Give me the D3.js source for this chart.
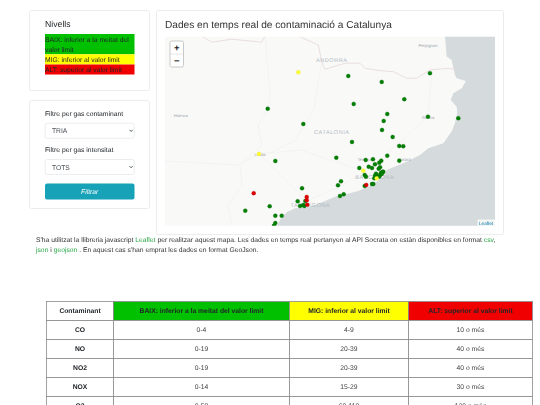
<!DOCTYPE html>
<html>
<head>
<meta charset="utf-8">
<script src="https://cdnjs.cloudflare.com/ajax/libs/d3/7.8.5/d3.min.js"></script>
<style>
html, body { margin: 0; background: #fff; overflow: hidden; }
svg { filter: blur(.3px); }
text { font-family: "Liberation Sans", Arial, sans-serif; text-rendering: geometricPrecision; }
</style>
</head>
<body>
<div id="page"></div>
<script>
// stations, [lon, lat]
const greenStations = [
    [.724,42.055],[1.205,41.906],[1.813,42.372],[2.265,42.314],[2.917,42.399],[2.57,42.146],
    [1.886,42.101],[2.34,42.003],[2.292,41.936],[2.89,41.977],[3.30,41.962],[.827,41.547],
    [1.651,41.579],[1.715,41.35],[1.674,41.311],[1.188,41.282],[1.701,41.207],[1.751,41.224],
    [1.232,41.159],[1.129,41.156],[1.161,41.11],[1.205,41.12],[1.219,41.11],[.751,41.107],
    [.421,41.065],[.827,41.016],[.913,41.016],[.827,40.945],[.809,40.92],[2.269,41.848],
    [1.863,41.732],[2.413,41.78],[2.502,41.693],[2.556,41.69],[2.34,41.599],[2.502,41.55],
    [2.048,41.557],[2.147,41.564],[2.259,41.55],[2.232,41.531],[2.174,41.515],[2.089,41.492],
    [2.134,41.479],[1.962,41.479],[2.242,41.486],[2.224,41.472],[2.035,41.411],[2.052,41.395],
    [2.278,41.443],[2.255,41.434],[2.286,41.443],[2.242,41.411],[2.188,41.424],[2.174,41.404],
    [2.21,41.395],[2.165,41.379],[2.232,41.395],[2.265,41.421],[2.134,41.324],[2.151,41.324],
    [2.035,41.304]
]
const yellowStations = [[1.138,42.408],[.606,41.615],[2.016,41.453],[2.197,41.379]]
const redStations = [[.535,41.234],[1.251,41.198],[1.251,41.166],[1.259,41.123],[2.056,41.314]]

const seaOutline = [
    [3.12,42.76],[3.143,42.56],[3.21,42.528],[3.255,42.382],[3.278,42.35],[3.404,42.324],[3.346,42.253],
    [3.232,42.204],[3.197,42.139],[3.278,42.074],[3.286,42.013],[3.255,41.916],[3.21,41.832],[3.097,41.719],
    [2.894,41.67],[2.782,41.605],[2.602,41.54],[2.332,41.46],[2.286,41.395],[2.197,41.346],[2.084,41.298],
    [1.948,41.256],[1.792,41.227],[1.634,41.201],[1.498,41.159],[1.363,41.12],[1.228,41.094],[1.093,41.088],
    [.981,41.049],[.89,40.974],[.846,40.916],[3.796,40.916],[3.796,42.76]
]
const borderWest = [[-.168,42.76],[-.033,42.70],[.238,42.729],[.643,42.70],[.688,42.76]]
const borderEast = [
    [1.138,42.76],[1.408,42.673],[1.454,42.511],[1.498,42.437],[1.769,42.496],[1.971,42.496],[2.039,42.447],
    [2.242,42.424],[2.421,42.414],[2.602,42.35],[2.738,42.35],[2.917,42.431],[3.188,42.447],[3.255,42.431]
]
const minorLines = [
    [[.688,42.76],[.755,42.207],[.728,42.062],[.593,41.897],[.647,41.703],[.35,41.508],[.377,41.314],[.188,41.12],[.242,40.916]],
    [[-.664,41.547],[.323,41.508],[.606,41.615],[1.161,41.654],[1.971,41.46],[2.174,41.402]],
    [[2.174,41.515],[2.89,41.977],[2.944,42.43]],
    [[1.25,41.16],[1.7,41.3],[2.05,41.45]],
    [[1.25,41.16],[.606,41.615]],
    [[1.454,42.511],[1.35,42.05],[1.1,41.75],[.75,41.62]]
]
const placeNames = ["Perpignan","ANDORRA","CATALONIA","Huesca","Lleida","Girona","Terrassa","Mataró","BARCELONA","TARRAGONA"]
const placeCoords = [[2.89,42.67],[1.59,42.525],[1.59,41.83],[-.45,41.995],[.62,41.615],[2.89,41.975],[2.05,41.565],[2.57,41.56],[2.17,41.39],[1.3,41.12]]

const nivells = ["BAIX: inferior a la meitat del", "valor limit", "MIG: inferior al valor limit", "ALT: superior al valor limit"]
const filterLabels = ["Filtre per gas contaminant", "Filtre per gas intensitat"]
const filterValues = ["TRIA", "TOTS"]

const tableHeader = ["Contaminant", "BAIX: inferior a la meitat del valor limit", "MIG: inferior al valor limit", "ALT: superior al valor limit"]
const gases = ["CO", "NO", "NO2", "NOX", "O3"]
const baixRange = ["0-4", "0-19", "0-19", "0-14", "0-59"]
const migRange = ["4-9", "20-39", "20-39", "15-29", "60-119"]
const altRange = ["10 o més", "40 o més", "40 o més", "30 o més", "120 o més"]

const GREEN = "#00c000", YELLOW = "#ffff00", RED = "#f00000"

const svg = d3.select("#page").append("svg")
    .attr("width", 540).attr("height", 405)
    .style("display", "block")

function card(x, y, w, h) {
    svg.append("rect").attr("x", x + .5).attr("y", y + .5).attr("width", w).attr("height", h)
        .attr("rx", 2).attr("fill", "#fff").attr("stroke", "#ececec").attr("stroke-width", 1)
}

function label(parent, x, y, str, size, fill) {
    return parent.append("text").attr("x", x).attr("y", y).attr("font-size", size)
        .attr("fill", fill || "#212529").text(str)
}

function drawLegend() {
    card(29, 10, 120, 80)
    label(svg, 45, 27, "Nivells", 8.7)
    svg.append("rect").attr("x", 45).attr("y", 34).attr("width", 89.5).attr("height", 20.3).attr("fill", GREEN)
    svg.append("rect").attr("x", 45).attr("y", 54.3).attr("width", 89.5).attr("height", 10.2).attr("fill", YELLOW)
    svg.append("rect").attr("x", 45).attr("y", 64.5).attr("width", 89.5).attr("height", 10).attr("fill", RED)
    label(svg, 45, 41.5, nivells[0], 6.75)
    label(svg, 45, 51.6, nivells[1], 6.75)
    label(svg, 45, 61.8, nivells[2], 6.75)
    label(svg, 45, 71.9, nivells[3], 6.75)
}

function drawFilters() {
    card(29, 100, 120, 108)
    filterLabels.forEach((str, i) => {
        const top = i == 0 ? 123 : 159.3
        label(svg, 45, top - 7, str, 6.75)
        svg.append("rect").attr("x", 45.2).attr("y", top + .2).attr("width", 89).attr("height", 15)
            .attr("rx", 2).attr("fill", "#fff").attr("stroke", "#e2e5e8").attr("stroke-width", .7)
        label(svg, 52, top + 10.2, filterValues[i], 6.75, "#495057")
        svg.append("path").attr("d", `M129.5 ${top + 6.8}l1.6 1.7l1.6 -1.7`)
            .attr("fill", "none").attr("stroke", "#343a40").attr("stroke-width", .8)
    })
    svg.append("rect").attr("x", 45).attr("y", 183.5).attr("width", 89.5).attr("height", 16)
        .attr("rx", 2).attr("fill", "#17a2b8")
    label(svg, 89.7, 193.7, "Filtrar", 6.75, "#fff").attr("text-anchor", "middle").attr("font-style", "italic")
}

function drawMap() {
    card(156, 10, 347, 224)
    label(svg, 165, 28, "Dades en temps real de contaminació a Catalunya", 10.15, "#333")

    const x = d3.scaleLinear().domain([-.664, 3.796]).range([165, 495])
    const y = d3.scaleLinear().domain([42.76, 40.916]).range([36, 226])
    const line = d3.line().x(d => x(d[0])).y(d => y(d[1]))

    svg.append("clipPath").attr("id", "mapClip").append("rect")
        .attr("x", 165).attr("y", 36.7).attr("width", 330).attr("height", 189.1)
    const map = svg.append("g").attr("clip-path", "url(#mapClip)")
    map.append("rect").attr("x", 165).attr("y", 36).attr("width", 330).attr("height", 190).attr("fill", "#f9f9f8")
    map.append("path").attr("d", line(seaOutline) + "Z").attr("fill", "#d5dadc")

    map.selectAll(".minor").data(minorLines).enter().append("path")
        .attr("class", "minor").attr("d", line).attr("fill", "none")
        .attr("stroke", "#f0f0f0").attr("stroke-width", .7)
    map.selectAll(".border").data([borderWest, borderEast]).enter().append("path")
        .attr("class", "border").attr("d", line).attr("fill", "none")
        .attr("stroke", "#eadde1").attr("stroke-width", 1)

    map.selectAll(".place").data(placeNames).enter().append("text")
        .attr("class", "place")
        .attr("x", (d, i) => x(placeCoords[i][0])).attr("y", (d, i) => y(placeCoords[i][1]) + 1.8)
        .attr("text-anchor", "middle")
        .attr("font-size", d => d == d.toUpperCase() ? 5.6 : 4.2)
        .attr("letter-spacing", d => d == d.toUpperCase() ? .5 : 0)
        .attr("fill", d => d == d.toUpperCase() ? "#b4bcc4" : "#a0a6ac")
        .text(d => d)

    const dots = [[greenStations, "#008000", "#006400"], [yellowStations, "#ffff33", "#dddd22"], [redStations, "#e00000", "#b00000"]]
    dots.forEach(group => {
        map.append("g").selectAll("circle").data(group[0]).enter().append("circle")
            .attr("cx", d => x(d[0])).attr("cy", d => y(d[1])).attr("r", 2)
            .attr("fill", group[1]).attr("stroke", group[2]).attr("stroke-width", .3)
    })

    // zoom buttons
    svg.append("rect").attr("x", 170).attr("y", 41).attr("width", 13.5).attr("height", 26).attr("rx", 1.5)
        .attr("fill", "#fff").attr("stroke", "#c9c9c9").attr("stroke-width", 1)
    svg.append("line").attr("x1", 170).attr("x2", 183.5).attr("y1", 54).attr("y2", 54).attr("stroke", "#ddd").attr("stroke-width", .7)
    svg.append("text").attr("x", 176.8).attr("y", 50.6).attr("text-anchor", "middle").attr("font-size", 9.5).attr("font-weight", "bold").attr("fill", "#222").text("+")
    svg.append("text").attr("x", 176.8).attr("y", 63.6).attr("text-anchor", "middle").attr("font-size", 9.5).attr("font-weight", "bold").attr("fill", "#222").text("−")

    svg.append("rect").attr("x", 477.5).attr("y", 219.5).attr("width", 17.5).attr("height", 6.3).attr("fill", "#fff").attr("opacity", .75)
    label(svg, 479, 224.6, "Leaflet", 4.7, "#0078a8")
}

function drawNote() {
    const line1 = svg.append("text").attr("x", 36).attr("y", 242.2).attr("font-size", 6.75).attr("fill", "#333")
    line1.append("tspan").text("S'ha utilitzat la llibreria javascript ")
    line1.append("tspan").attr("fill", "#28a745").text("Leaflet")
    line1.append("tspan").text(" per realitzar aquest mapa. Les dades en temps real pertanyen al API Socrata on estàn disponibles en format ")
    line1.append("tspan").attr("fill", "#28a745").text("csv")
    line1.append("tspan").text(",")
    const line2 = svg.append("text").attr("x", 36).attr("y", 252.3).attr("font-size", 6.75).attr("fill", "#333")
    line2.append("tspan").attr("fill", "#28a745").text("json")
    line2.append("tspan").text(" i ")
    line2.append("tspan").attr("fill", "#28a745").text("geojson")
    line2.append("tspan").text(" . En aquest cas s'han emprat les dades en format GeoJson.")
}

function drawTable() {
    const edges = [46.5, 113.5, 289.5, 408.5, 532.5]
    const rowY = d3.scaleLinear().domain([0, 1]).range([301.5, 320.5])
    const fills = ["#fff", GREEN, YELLOW, RED]
    tableHeader.forEach((str, i) => {
        svg.append("rect").attr("x", edges[i]).attr("y", rowY(0)).attr("width", edges[i + 1] - edges[i]).attr("height", 19)
            .attr("fill", fills[i]).attr("stroke", "#8a8a8a").attr("stroke-width", .8)
        svg.append("text").attr("x", (edges[i] + edges[i + 1]) / 2).attr("y", rowY(.5) + 2.3)
            .attr("text-anchor", "middle").attr("font-size", 6.75).attr("font-weight", "bold").attr("fill", "#212529").text(str)
    })
    gases.forEach((gas, r) => {
        const cells = [gas, baixRange[r], migRange[r], altRange[r]]
        cells.forEach((str, i) => {
            svg.append("rect").attr("x", edges[i]).attr("y", rowY(r + 1)).attr("width", edges[i + 1] - edges[i]).attr("height", 19)
                .attr("fill", "#fff").attr("stroke", "#8a8a8a").attr("stroke-width", .8)
            svg.append("text").attr("x", (edges[i] + edges[i + 1]) / 2).attr("y", rowY(r + 1.5) + 2.3)
                .attr("text-anchor", "middle").attr("font-size", 6.75)
                .attr("font-weight", i == 0 ? "bold" : "normal").attr("fill", i == 0 ? "#212529" : "#444").text(str)
        })
    })
}

drawLegend()
drawFilters()
drawMap()
drawNote()
drawTable()
</script>
</body>
</html>
